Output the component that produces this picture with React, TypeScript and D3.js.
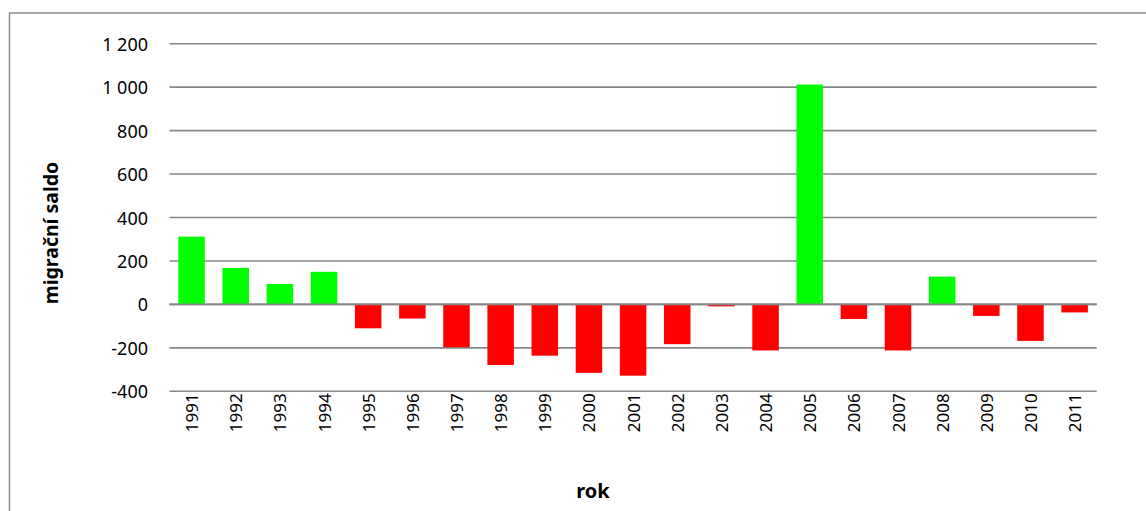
import React from "react";
import * as d3 from "d3";

const years = ["1991","1992","1993","1994","1995","1996","1997","1998","1999","2000","2001","2002","2003","2004","2005","2006","2007","2008","2009","2010","2011"];
const saldo = [312, 168, 94, 150, -110, -65, -197, -279, -236, -315, -328, -183, -9, -212, 1012, -67, -212, 128, -53, -168, -37];
const yTicks = [-400, -200, 0, 200, 400, 600, 800, 1000, 1200];
const yTickLabels = ["-400", "-200", "0", "200", "400", "600", "800", "1 000", "1 200"];
const yTitle = "migrační saldo";
const xTitle = "rok";

const W = 1146, H = 511;
const plot = { left: 169.5, right: 1096.7, top: 43.7, bottom: 391.3 };
const font = "'Noto Sans', 'Open Sans', sans-serif";

export default function App() {
  const y = d3.scaleLinear().domain([-400, 1200]).range([plot.bottom, plot.top]);
  const x = d3.scaleBand<string>().domain(years).range([plot.left, plot.right]).paddingInner(0.4).paddingOuter(0.2);
  return (
    <svg width={W} height={H} style={{ position: "absolute", left: 0, top: 0 }} fontFamily={font}>
      <rect x={0} y={0} width={W} height={H} fill="#fff" />
      <rect x={9.5} y={13} width={W + 20} height={H + 20} fill="none" stroke="#8c8c8c" strokeWidth={1.5} />
      {yTicks.map((t, i) => (
        <g key={t}>
          <line x1={plot.left} x2={plot.right} y1={y(t)} y2={y(t)} stroke="#878787" strokeWidth={1.6} />
          <text x={148} y={y(t)} textAnchor="end" dominantBaseline="central" fontSize={18} fill="#000">{yTickLabels[i]}</text>
        </g>
      ))}
      {years.map((yr, i) => {
        const v = saldo[i];
        const x0 = x(yr)!;
        return (
          <rect key={yr} x={x0} width={x.bandwidth()} y={y(Math.max(0, v))} height={Math.abs(y(v) - y(0))}
            fill={v >= 0 ? "#00ff00" : "#ff0000"} />
        );
      })}
      <line x1={plot.left} x2={plot.right} y1={y(0)} y2={y(0)} stroke="#878787" strokeWidth={1.6} />
      {years.map((yr) => {
        const cx = x(yr)! + x.bandwidth() / 2;
        return (
          <text key={yr} transform={`translate(${cx},${plot.bottom + 2}) rotate(-90)`} textAnchor="end" dominantBaseline="central" fontSize={17} fill="#000">{yr}</text>
        );
      })}
      <text transform={`translate(50,233) rotate(-90)`} textAnchor="middle" dominantBaseline="central" fontSize={19.5} fontWeight="bold" fill="#000">{yTitle}</text>
      <text x={593} y={498} textAnchor="middle" fontSize={20} fontWeight="bold" fill="#000">{xTitle}</text>
    </svg>
  );
}
